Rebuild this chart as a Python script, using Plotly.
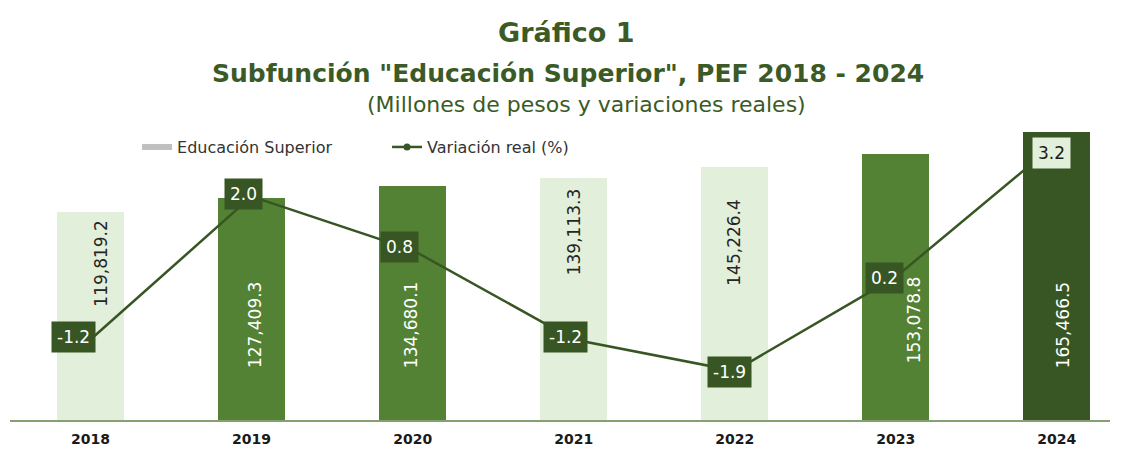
import plotly.graph_objects as go

# ---------------- data ----------------
years = ["2018", "2019", "2020", "2021", "2022", "2023", "2024"]
gasto = [119819.2, 127409.3, 134680.1, 139113.3, 145226.4, 153078.8, 165466.5]
variacion = [-1.2, 2.0, 0.8, -1.2, -1.9, 0.2, 3.2]

title_1 = "Gráfico 1"
title_2 = 'Subfunción "Educación Superior", PEF 2018 - 2024'
title_3 = "(Millones de pesos y variaciones reales)"
bar_name = "Educación Superior"
line_name = "Variación real (%)"

# ---------------- style ----------------
FONT = "DejaVu Sans"
LIGHT = "#e2efda"
MID = "#548235"
DARK = "#375623"
TITLE_C = "#3b5a26"
bar_colors = [LIGHT, MID, MID, LIGHT, LIGHT, MID, DARK]
bar_label_anchor = ["top", "base", "base", "top", "top", "base", "base"]
bar_label_dx = [11, 3, -2, 0, -1, 18, 6]
bar_label_dy = [-6, 50, 50, -8, -29, 55, 50]
line_label_dx = [-17, -8, -13, -8, -5, -11, -5]
line_label_dy = [3, 2, 3, 3, -1, -1, -10]
line_label_bg = [DARK] * 6 + [LIGHT]
line_label_fc = ["white"] * 6 + ["#1a1a1a"]

fig = go.Figure()

fig.add_trace(go.Bar(
    x=years, y=gasto, marker=dict(color=bar_colors, line=dict(width=0)),
    width=0.416, showlegend=False, name=bar_name,
))
# legend swatch for the bar series (grey, as in the original)
fig.add_trace(go.Scatter(
    x=[None], y=[None], mode="lines", name=bar_name,
    line=dict(color="#bfbfbf", width=6),
))
fig.add_trace(go.Scatter(
    x=years, y=variacion, yaxis="y2", mode="lines+markers", name=line_name,
    line=dict(color=DARK, width=2.5), marker=dict(size=7, color=DARK),
))

annotations = []
for i, v in enumerate(gasto):
    txt = f"{v:,.1f}"
    light = bar_label_anchor[i] == "top"
    annotations.append(dict(
        x=i, y=v if light else 0, xref="x", yref="y",
        text=txt, textangle=-90, showarrow=False,
        yanchor="top" if light else "bottom", xanchor="center",
        xshift=bar_label_dx[i], yshift=bar_label_dy[i],
        font=dict(family=FONT, size=17, color="#262626" if light else "white"),
    ))
for i, v in enumerate(variacion):
    annotations.append(dict(
        x=i, y=v, xref="x", yref="y2", text=f"{v:.1f}", showarrow=False,
        xanchor="center", yanchor="middle",
        xshift=line_label_dx[i], yshift=line_label_dy[i],
        bgcolor=line_label_bg[i], borderpad=5,
        font=dict(family=FONT, size=17, color=line_label_fc[i]),
    ))

# titles
annotations += [
    dict(text=title_1, x=0.5059, y=1.2396, xref="paper", yref="paper",
         showarrow=False, xanchor="center", yanchor="middle",
         font=dict(family=FONT, size=27, color=TITLE_C, weight="bold")),
    dict(text=title_2, x=0.5077, y=1.1086, xref="paper", yref="paper",
         showarrow=False, xanchor="center", yanchor="middle",
         font=dict(family=FONT, size=25, color=TITLE_C, weight="bold")),
    dict(text=title_3, x=0.5245, y=1.0064, xref="paper", yref="paper",
         showarrow=False, xanchor="center", yanchor="middle",
         font=dict(family=FONT, size=22, color=TITLE_C)),
]

fig.update_layout(
    width=1124, height=449,
    margin=dict(l=10, r=14, t=107, b=29, autoexpand=False),
    paper_bgcolor="white", plot_bgcolor="white",
    annotations=annotations,
    bargap=0,
    xaxis=dict(
        type="category", range=[-0.5, 6.33], showgrid=False,
        showline=True, linecolor="#86a072", linewidth=2,
        ticks="", ticklabelstandoff=5, automargin=False,
        tickfont=dict(family=FONT, size=14, color="#1a1a1a", weight="bold"),
        zeroline=False,
    ),
    yaxis=dict(range=[0, 180000], visible=False, showgrid=False),
    yaxis2=dict(range=[-3, 4], overlaying="y", side="right", visible=False,
                showgrid=False),
    legend=dict(
        orientation="h", x=0.1155, y=0.872, xanchor="left", yanchor="middle",
        font=dict(family=FONT, size=16, color="#333333"),
        bgcolor="rgba(0,0,0,0)", entrywidth=205, entrywidthmode="pixels",
        itemwidth=30,
    ),
    showlegend=True,
)

fig.write_html("out.html", config={"displayModeBar": False},
               post_script="document.body.style.margin='0';")
